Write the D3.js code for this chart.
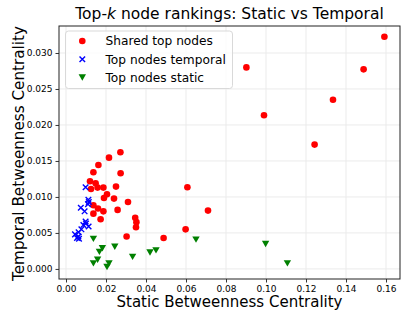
<!DOCTYPE html>
<html><head><meta charset="utf-8">
<script src="https://cdn.jsdelivr.net/npm/d3@7"></script>
<style>body{margin:0;background:#fff}svg{display:block}text{font-family:"DejaVu Sans",sans-serif}</style>
</head><body>
<svg id="c" width="407" height="320"></svg>
<script>
const sharedX = [0.1592,0.0902,0.1488,0.1335,0.0990,0.1243,0.0607,0.0710,0.0598,0.0272,0.0273,0.0310,0.0258,0.0346,0.0352,0.0350,0.0303,0.0488,0.0215,0.0162,0.0137,0.0120,0.0148,0.0187,0.0250,0.0158,0.0125,0.0205,0.0190,0.0240,0.0137,0.0160,0.0187,0.0137,0.0173];
const sharedY = [0.03226,0.0280,0.02773,0.02351,0.02134,0.01727,0.01135,0.0081,0.0055,0.0162,0.0133,0.0093,0.0082,0.0071,0.0065,0.0058,0.0045,0.0043,0.01546,0.01444,0.01343,0.01218,0.0119,0.0113,0.01144,0.0113,0.0111,0.01037,0.00986,0.00977,0.00884,0.0084,0.0080,0.00768,0.0069];
const temporalX = [0.0098,0.0112,0.0114,0.0110,0.0074,0.0093,0.0098,0.0100,0.0087,0.0113,0.0077,0.0063,0.0045,0.0062,0.0055,0.0065];
const temporalY = [0.01135,0.0096,0.0093,0.0090,0.0085,0.0080,0.0066,0.0063,0.0061,0.0059,0.0055,0.0051,0.0048,0.0045,0.0043,0.0042];
const staticX = [0.0137,0.0182,0.0167,0.0244,0.0158,0.0137,0.0215,0.0205,0.0333,0.0420,0.0450,0.0650,0.0998,0.1107];
const staticY = [0.0042,0.0029,0.0024,0.0031,0.0013,0.0008,0.0008,0.0003,0.0017,0.0023,0.0026,0.0041,0.0035,0.0008];
const xTicks = [0,0.02,0.04,0.06,0.08,0.10,0.12,0.14,0.16];
const yTicks = [0,0.005,0.010,0.015,0.020,0.025,0.030];
const legendLabels = ["Shared top nodes","Top nodes temporal","Top nodes static"];

const svg = d3.select("#c");
const L=59, R=400, T=26, B=279;
const x = d3.scaleLinear().domain([-0.0035,0.167]).range([L,R]);
const y = d3.scaleLinear().domain([-0.0014,0.03375]).range([B,T]);

// grid
const g = svg.append("g");
g.selectAll(".gx").data(xTicks).join("line").attr("x1",d=>x(d)).attr("x2",d=>x(d)).attr("y1",T).attr("y2",B).attr("stroke","#ebebeb").attr("stroke-width",1);
g.selectAll(".gy").data(yTicks).join("line").attr("y1",d=>y(d)).attr("y2",d=>y(d)).attr("x1",L).attr("x2",R).attr("stroke","#ebebeb").attr("stroke-width",1);

// axes
const xa = svg.append("g").attr("transform",`translate(0,${B})`).call(d3.axisBottom(x).tickValues(xTicks).tickFormat(d3.format(".2f")).tickSize(3.5).tickPadding(3));
const ya = svg.append("g").attr("transform",`translate(${L},0)`).call(d3.axisLeft(y).tickValues(yTicks).tickFormat(d3.format(".3f")).tickSize(3.5).tickPadding(3));
[xa,ya].forEach(a=>{a.select(".domain").remove();a.selectAll("text").attr("font-size",9).attr("font-family","DejaVu Sans").attr("fill","#000");a.selectAll("line").attr("stroke","#000").attr("stroke-width",0.8);});

svg.append("rect").attr("x",L).attr("y",T).attr("width",R-L).attr("height",B-T).attr("fill","none").attr("stroke","#222").attr("stroke-width",1);

// points
svg.append("g").selectAll("circle").data(sharedX.map((d,i)=>[d,sharedY[i]])).join("circle")
  .attr("cx",d=>x(d[0])).attr("cy",d=>y(d[1])).attr("r",3.3).attr("fill","#ff0000");
const sym = d3.symbol().type(d3.symbolTimes).size(22);
svg.append("g").selectAll("path").data(temporalX.map((d,i)=>[d,temporalY[i]])).join("path")
  .attr("d",sym).attr("transform",d=>`translate(${x(d[0])},${y(d[1])})`).attr("fill","none").attr("stroke","#0000ff").attr("stroke-width",1.4);
const tri = "M-3.7,-3L3.7,-3L0,3.4Z";
svg.append("g").selectAll("path").data(staticX.map((d,i)=>[d,staticY[i]])).join("path")
  .attr("d",tri).attr("transform",d=>`translate(${x(d[0])},${y(d[1])})`).attr("fill","#008000");

// legend
const lg = svg.append("g");
lg.append("rect").attr("x",65.5).attr("y",31).attr("width",167).attr("height",57.5).attr("rx",3).attr("fill","#fff").attr("fill-opacity",0.8).attr("stroke","#d9d9d9").attr("stroke-width",1);
const rows=[41,59.3,77.3];
lg.append("circle").attr("cx",82.3).attr("cy",rows[0]).attr("r",3.3).attr("fill","#ff0000");
lg.append("path").attr("d",sym).attr("transform",`translate(82.3,${rows[1]})`).attr("fill","none").attr("stroke","#0000ff").attr("stroke-width",1.4);
lg.append("path").attr("d",tri).attr("transform",`translate(82.3,${rows[2]})`).attr("fill","#008000");
lg.selectAll("text").data(legendLabels).join("text").attr("x",105.5).attr("y",(d,i)=>rows[i]).attr("dy","0.35em").attr("font-size",12.2).text(d=>d);

// title & labels
const t = svg.append("text").attr("x",(L+R)/2).attr("y",19).attr("text-anchor","middle").attr("font-size",15.5);
t.append("tspan").text("Top-");
t.append("tspan").attr("font-style","italic").text("k");
t.append("tspan").text(" node rankings: Static vs Temporal");
svg.append("text").attr("x",(L+R)/2).attr("y",307).attr("text-anchor","middle").attr("font-size",15).text("Static Betweenness Centrality");
svg.append("text").attr("transform",`translate(24,${(T+B)/2+1}) rotate(-90)`).attr("text-anchor","middle").attr("font-size",15.2).text("Temporal Betweenness Centrality");
</script>
</body></html>
